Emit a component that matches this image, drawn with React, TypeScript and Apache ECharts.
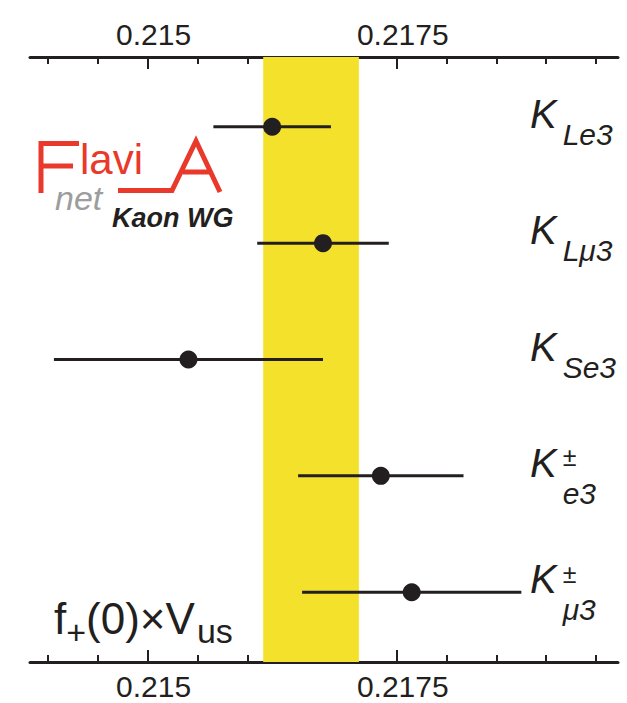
import React, { useEffect, useRef } from 'react';
import * as echarts from 'echarts';

const FONT = "'Liberation Sans', Arial, Helvetica, sans-serif";
const BLACK = '#231F20';
const YELLOW = '#F4E12C';
const RED = '#E8392B';

// axis
const xMin = 0.21382;
const xMax = 0.21972;
const majorTicks = [0.215, 0.2175];
const minorTicks = [0.214, 0.2145, 0.2155, 0.216, 0.2165, 0.217, 0.218, 0.2185, 0.219, 0.2195];

// measurements (top to bottom)
const channels = ['Le3', 'Lμ3', 'Se3', 'e3', 'μ3'];
const charged = [false, false, false, true, true];
const rowPos = [5, 4, 3, 2, 1];
const centers = [0.21625, 0.21676, 0.21541, 0.21734, 0.21765];
const errors = [0.00059, 0.00066, 0.00135, 0.00083, 0.0011];

// average
const average = 0.21664;
const averageErr = 0.00048;

const yMin = 0.4;
const yMax = 5.6;

function measure(text: string, font: string): number {
  const c = document.createElement('canvas').getContext('2d')!;
  c.font = font;
  return c.measureText(text).width;
}

// place text with baseline at y (middle alignment with central baseline correction)
function txt(text: string, x: number, baseline: number, size: number, opts: any = {}) {
  const style = opts.fontStyle || 'normal';
  const weight = opts.fontWeight || 'normal';
  return {
    type: 'text',
    x,
    y: baseline - 0.3465 * size,
    silent: true,
    z: 100,
    style: {
      text,
      fill: opts.fill || BLACK,
      font: `${style} ${weight} ${size}px ${FONT}`,
      align: 'left',
      verticalAlign: 'middle',
    },
  };
}

function width(text: string, size: number, italic = false, bold = false) {
  return measure(text, `${italic ? 'italic ' : ''}${bold ? 'bold ' : ''}${size}px ${FONT}`);
}

export default function App() {
  const ref = useRef<HTMLDivElement>(null);
  useEffect(() => {
    const chart = echarts.init(ref.current!, null, { renderer: 'svg' });
    const axisBase = {
      type: 'value',
      min: xMin,
      max: xMax,
      splitLine: { show: false },
      axisLine: { show: false },
    };
    const labelStyle = {
      fontFamily: FONT,
      fontSize: 30,
      color: BLACK,
      padding: [0, 0, 0, 12],
      formatter: (v: number) => String(+v.toFixed(5)),
    };
    chart.setOption({
      animation: false,
      backgroundColor: '#fff',
      grid: { left: 30, right: 9, top: 57, bottom: 41 },
      xAxis: [
        {
          ...axisBase,
          position: 'bottom',
          axisLine: { show: true, lineStyle: { color: BLACK, width: 3 } },
          axisTick: { show: true, inside: true, length: 12, customValues: majorTicks, lineStyle: { color: BLACK, width: 2 } },
          axisLabel: { ...labelStyle, margin: 9, customValues: majorTicks },
        },
        {
          ...axisBase,
          position: 'bottom',
          axisTick: { show: true, inside: true, length: 7, customValues: minorTicks, lineStyle: { color: BLACK, width: 2 } },
          axisLabel: { show: false },
        },
        {
          ...axisBase,
          position: 'top',
          axisLine: { show: true, lineStyle: { color: BLACK, width: 3 } },
          axisTick: { show: true, inside: true, length: 12, customValues: majorTicks, lineStyle: { color: BLACK, width: 2 } },
          axisLabel: { ...labelStyle, margin: 8, customValues: majorTicks },
        },
        {
          ...axisBase,
          position: 'top',
          axisTick: { show: true, inside: true, length: 7, customValues: minorTicks, lineStyle: { color: BLACK, width: 2 } },
          axisLabel: { show: false },
        },
      ],
      yAxis: {
        type: 'value',
        min: yMin,
        max: yMax,
        show: false,
      },
      series: [
        {
          type: 'scatter',
          name: 'average',
          data: [],
          silent: true,
          markArea: {
            silent: true,
            itemStyle: { color: YELLOW, opacity: 1 },
            data: [[{ xAxis: average - averageErr }, { xAxis: average + averageErr }]],
          },
          markLine: {
            silent: true,
            symbol: 'none',
            label: { show: false },
            lineStyle: { color: BLACK, width: 2.5, type: 'solid' },
            data: [{ xAxis: average }],
          },
          z: 1,
        },
        {
          type: 'custom',
          name: 'errors',
          silent: true,
          z: 3,
          encode: { x: [0, 1], y: 2 },
          data: centers.map((c, i) => [c - errors[i], c + errors[i], rowPos[i]]),
          renderItem: (params: any, api: any) => {
            const p1 = api.coord([api.value(0), api.value(2)]);
            const p2 = api.coord([api.value(1), api.value(2)]);
            return {
              type: 'line',
              shape: { x1: p1[0], y1: p1[1], x2: p2[0], y2: p2[1] },
              style: { stroke: BLACK, lineWidth: 3 },
            };
          },
        },
        {
          type: 'scatter',
          name: 'values',
          silent: true,
          z: 4,
          symbol: 'circle',
          symbolSize: 18,
          itemStyle: { color: BLACK, opacity: 1 },
          data: centers.map((c, i) => [c, rowPos[i]]),
        },
      ],
    });

    const elements: any[] = [];
    // channel labels
    channels.forEach((ch, i) => {
      const yPix = chart.convertToPixel({ xAxisIndex: 0, yAxisIndex: 0 }, [xMin, rowPos[i]])[1];
      const kx = 530;
      const kSize = 40;
      const subSize = 30;
      elements.push(txt('K', kx, yPix + 1, kSize, { fontStyle: 'italic' }));
      const sx = kx + width('K', kSize, true) + 6;
      if (charged[i]) {
        elements.push(txt('±', sx, yPix - 10, 25));
        elements.push(txt(ch, sx, yPix + 28, subSize, { fontStyle: 'italic' }));
      } else {
        elements.push(txt(ch, sx, yPix + 18, subSize, { fontStyle: 'italic' }));
      }
    });

    // f+(0) x Vus
    {
      const base = 634;
      const big = 44;
      const small = 34;
      let x = 54;
      elements.push(txt('f', x, base, big));
      x += width('f', big);
      elements.push(txt('+', x, base + 10, small));
      x += width('+', small);
      elements.push(txt('(0)×V', x, base, big));
      x += width('(0)×V', big) + 2;
      elements.push(txt('us', x, base + 9, small));
    }

    // FlaviA logo
    const red = { stroke: RED, lineWidth: 5, fill: null, lineCap: 'butt', lineJoin: 'miter' };
    elements.push({ type: 'polyline', silent: true, z: 100, shape: { points: [[79, 143.5], [41, 143.5], [41, 193]] }, style: red });
    elements.push({ type: 'line', silent: true, z: 100, shape: { x1: 41, y1: 166, x2: 73, y2: 166 }, style: red });
    elements.push(txt('lavi', 80, 174, 42, { fill: RED }));
    elements.push({ type: 'polyline', silent: true, z: 100, shape: { points: [[118, 190.5], [172, 190.5], [196, 141], [220, 192]] }, style: red });
    elements.push({ type: 'line', silent: true, z: 100, shape: { x1: 183, y1: 172, x2: 210, y2: 172 }, style: red });
    elements.push(txt('net', 55, 210, 34, { fontStyle: 'italic', fill: '#9D9D9D' }));
    elements.push(txt('Kaon WG', 112, 227, 27, { fontStyle: 'italic', fontWeight: 'bold', fill: BLACK }));

    chart.setOption({ graphic: { elements } });
    return () => chart.dispose();
  }, []);
  return (
    <div
      ref={ref}
      style={{ position: 'fixed', left: 0, top: 0, width: 627, height: 703, background: '#fff' }}
    />
  );
}
